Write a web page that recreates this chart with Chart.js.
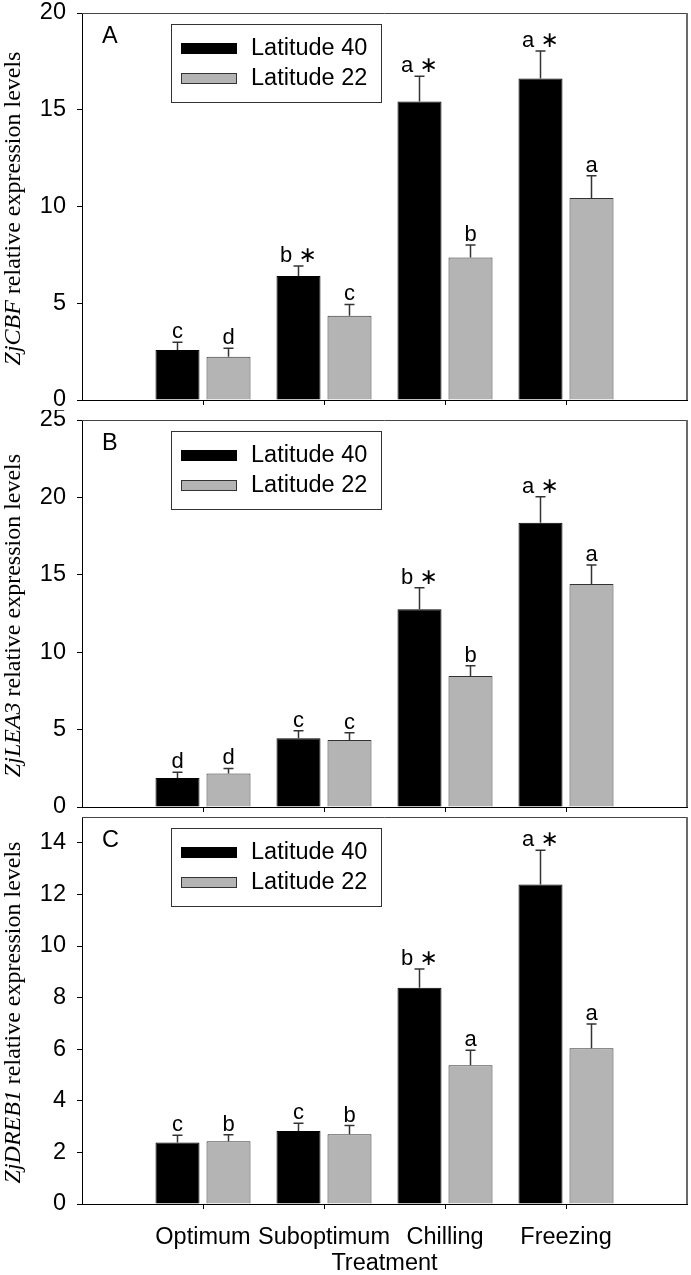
<!DOCTYPE html>
<html>
<head>
<meta charset="utf-8">
<script src="https://cdn.jsdelivr.net/npm/chart.js@4.4.0/dist/chart.umd.min.js"></script>
<style>
  body { margin: 0; background: #fff; }
  canvas { position: absolute; left: 0; }
</style>
</head>
<body>
<canvas id="chartA" width="691" height="410" style="top:0px"></canvas>
<canvas id="chartB" width="691" height="404" style="top:410px"></canvas>
<canvas id="chartC" width="691" height="461" style="top:814px"></canvas>
<script>
const categories = ['Optimum', 'Suboptimum', 'Chilling', 'Freezing'];
const seriesNames = ['Latitude 40', 'Latitude 22'];

// ZjCBF
const cbf40 = [2.58, 6.41, 15.42, 16.61];
const cbf40Err = [0.40, 0.52, 1.31, 1.43];
const cbf22 = [2.24, 4.36, 7.36, 10.44];
const cbf22Err = [0.43, 0.58, 0.65, 1.15];
const cbf40Letters = ['c', 'b \u2217', 'a \u2217', 'a \u2217'];
const cbf22Letters = ['d', 'c', 'b', 'a'];

// ZjLEA3
const lea40 = [1.87, 4.44, 12.77, 18.37];
const lea40Err = [0.37, 0.49, 1.40, 1.68];
const lea22 = [2.17, 4.33, 8.46, 14.40];
const lea22Err = [0.32, 0.47, 0.67, 1.23];
const lea40Letters = ['d', 'c', 'b \u2217', 'a \u2217'];
const lea22Letters = ['d', 'c', 'b', 'a'];

// ZjDREB1
const dreb40 = [2.38, 2.83, 8.38, 12.38];
const dreb40Err = [0.28, 0.30, 0.73, 1.33];
const dreb22 = [2.43, 2.70, 5.38, 6.04];
const dreb22Err = [0.25, 0.34, 0.58, 0.94];
const dreb40Letters = ['c', 'c', 'b \u2217', 'a \u2217'];
const dreb22Letters = ['b', 'b', 'a', 'a'];

const ticksA = [0, 5, 10, 15, 20];
const ticksB = [0, 5, 10, 15, 20, 25];
const ticksC = [0, 2, 4, 6, 8, 10, 12, 14];

const sans = "'Liberation Sans', Arial, 'DejaVu Sans', sans-serif";
const serif = "'Liberation Serif', 'Times New Roman', serif";
const pad = arr => [null, ...arr, null];

const extras = {
    id: 'extras',
    afterDatasetsDraw(chart) {
        const ctx = chart.ctx;
        const y = chart.scales.y;
        ctx.save();
        chart.data.datasets.forEach((ds, i) => {
            chart.getDatasetMeta(i).data.forEach((bar, j) => {
                const v = ds.data[j];
                if (v == null) return;
                const top = y.getPixelForValue(v + ds.errors[j]);
                ctx.strokeStyle = '#333';
                ctx.lineWidth = 1.5;
                ctx.beginPath();
                ctx.moveTo(bar.x, bar.y);
                ctx.lineTo(bar.x, top);
                ctx.moveTo(bar.x - 5, top);
                ctx.lineTo(bar.x + 5, top);
                ctx.stroke();
                ctx.fillStyle = '#000';
                ctx.font = '22px ' + sans;
                ctx.textAlign = 'center';
                ctx.textBaseline = 'alphabetic';
                ctx.fillText(ds.letters[j], bar.x, top - 4);
            });
        });
        ctx.restore();
    },
    afterDraw(chart, args, opts) {
        const ctx = chart.ctx;
        const a = chart.chartArea;
        ctx.save();
        // frame top / right
        ctx.strokeStyle = '#444';
        ctx.lineWidth = 1;
        ctx.beginPath();
        ctx.moveTo(a.left, a.top + 0.5);
        ctx.lineTo(a.right, a.top + 0.5);
        ctx.stroke();
        ctx.strokeStyle = '#6a6a6a';
        ctx.lineWidth = 2;
        ctx.beginPath();
        ctx.moveTo(a.right, a.top);
        ctx.lineTo(a.right, a.bottom);
        ctx.stroke();

        // panel letter
        ctx.fillStyle = '#000';
        ctx.font = '23.5px ' + sans;
        ctx.textAlign = 'left';
        ctx.textBaseline = 'alphabetic';
        ctx.fillText(opts.letter, a.left + 20, a.top + 30);

        // legend
        const lx = a.left + 89, ly = a.top + 11;
        ctx.strokeStyle = '#333';
        ctx.lineWidth = 1;
        ctx.strokeRect(lx + 0.5, ly + 0.5, 210, 78);
        chart.data.datasets.forEach((ds, i) => {
            const sy = ly + 19 + i * 30;
            ctx.fillStyle = ds.backgroundColor;
            ctx.fillRect(lx + 10, sy, 56, 11);
            ctx.strokeStyle = ds.borderColor;
            ctx.strokeRect(lx + 10.5, sy + 0.5, 55, 10);
            ctx.fillStyle = '#000';
            ctx.textBaseline = 'middle';
            ctx.fillText(ds.label, lx + 80, sy + 6);
        });

        // y title with italic gene name
        ctx.translate(20, (a.top + a.bottom) / 2 + 2);
        ctx.rotate(-Math.PI / 2);
        const rest = ' relative expression levels';
        ctx.font = 'italic 24px ' + serif;
        const w1 = ctx.measureText(opts.gene).width;
        ctx.font = '24px ' + serif;
        const w2 = ctx.measureText(rest).width;
        ctx.textBaseline = 'alphabetic';
        ctx.textAlign = 'left';
        ctx.font = 'italic 24px ' + serif;
        ctx.fillText(opts.gene, -(w1 + w2) / 2, 0);
        ctx.font = '24px ' + serif;
        ctx.fillText(rest, -(w1 + w2) / 2 + w1, 0);
        ctx.restore();
    }
};

function makePanel(id, cfg) {
    const showX = cfg.showX;
    new Chart(document.getElementById(id), {
        type: 'bar',
        data: {
            labels: ['', ...categories, ''],
            datasets: [
                {
                    label: seriesNames[0],
                    data: pad(cfg.s40), errors: pad(cfg.e40), letters: pad(cfg.l40),
                    backgroundColor: '#000000', borderColor: '#000000', borderWidth: 1,
                    barPercentage: 0.863, categoryPercentage: 0.843
                },
                {
                    label: seriesNames[1],
                    data: pad(cfg.s22), errors: pad(cfg.e22), letters: pad(cfg.l22),
                    backgroundColor: '#b4b4b4', borderColor: '#333333', borderWidth: 1,
                    barPercentage: 0.863, categoryPercentage: 0.843
                }
            ]
        },
        options: {
            responsive: false,
            animation: false,
            layout: { padding: { top: cfg.top, right: 4, left: 0, bottom: 0 } },
            scales: {
                x: {
                    offset: false,
                    grid: {
                        offset: false,
                        drawOnChartArea: false,
                        tickLength: 5,
                        color: c => (c.index === 0 || c.index === 5) ? 'rgba(0,0,0,0)' : '#000'
                    },
                    border: { color: '#000' },
                    ticks: {
                        display: showX, autoSkip: false, maxRotation: 0, padding: 14,
                        color: '#000', font: { family: sans, size: 23.5 }
                    },
                    title: {
                        display: showX, text: 'Treatment', color: '#000',
                        font: { family: sans, size: 23.5, lineHeight: 1 },
                        padding: { top: 0, bottom: 0 }
                    },
                    afterFit: s => { s.height = cfg.xHeight; s.paddingLeft = 0; s.paddingRight = 0; }
                },
                y: {
                    min: 0,
                    max: cfg.max,
                    afterBuildTicks: s => { s.ticks = cfg.ticks.map(v => ({ value: v })); },
                    grid: { drawOnChartArea: false, tickLength: 5, color: '#000' },
                    border: { color: '#000' },
                    ticks: { padding: 11, color: '#000', font: { family: sans, size: 23.5 } },
                    afterFit: s => { s.width = 82; s.paddingTop = 0; s.paddingBottom = 0; }
                }
            },
            plugins: {
                legend: { display: false },
                tooltip: { enabled: false },
                extras: { letter: cfg.letter, gene: cfg.gene }
            }
        },
        plugins: [extras]
    });
}

makePanel('chartA', {
    letter: 'A', gene: 'ZjCBF', max: 20, ticks: ticksA, top: 13, xHeight: 10, showX: false,
    s40: cbf40, e40: cbf40Err, l40: cbf40Letters, s22: cbf22, e22: cbf22Err, l22: cbf22Letters
});
makePanel('chartB', {
    letter: 'B', gene: 'ZjLEA3', max: 25, ticks: ticksB, top: 10, xHeight: 7, showX: false,
    s40: lea40, e40: lea40Err, l40: lea40Letters, s22: lea22, e22: lea22Err, l22: lea22Letters
});
makePanel('chartC', {
    letter: 'C', gene: 'ZjDREB1', max: 15, ticks: ticksC, top: 3, xHeight: 71, showX: true,
    s40: dreb40, e40: dreb40Err, l40: dreb40Letters, s22: dreb22, e22: dreb22Err, l22: dreb22Letters
});
</script>
</body>
</html>
